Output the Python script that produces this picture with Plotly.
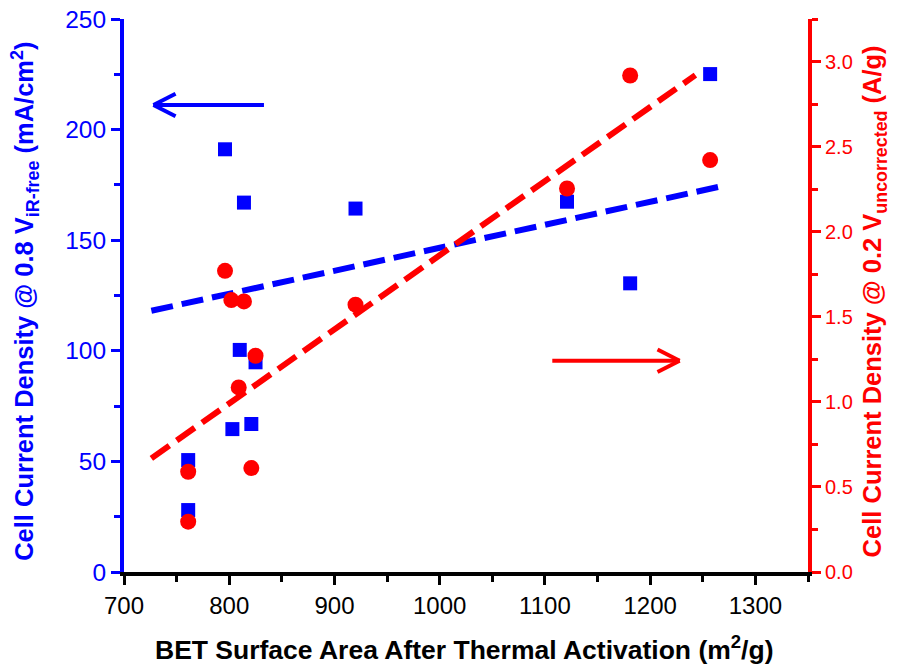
import plotly.graph_objects as go

# BET surface area (m2/g) shared by both series
bet_area = [761, 761, 796, 803, 810, 814, 821, 825, 920, 1121, 1181, 1257]
# left axis: current density @0.8 V iR-free (mA/cm2)
current_ir_free = [50.6, 28.0, 191.1, 64.6, 100.4, 167.0, 66.9, 94.8, 164.3, 167.4, 130.5, 225.1]
# right axis: current density @0.2 V uncorrected (A/g)
bet_area_red = [761, 761, 796, 802, 809, 814, 821, 825, 920, 1121, 1181, 1257]
current_uncorr = [0.589, 0.296, 1.770, 1.598, 1.085, 1.590, 0.611, 1.271, 1.571, 2.254, 2.918, 2.421]

# linear fit lines (end points)
blue_fit_x = [726, 1266]
blue_fit_y = [118.1, 174.2]
red_fit_x = [726, 1243]
red_fit_y = [0.668, 2.920]

x_title = "<b>BET Surface Area After Thermal Activation (m<sup>2</sup>/g)</b>"
y_title = "<b>Cell Current Density @ 0.8 V<sub>iR-free</sub> (mA/cm<sup>2</sup>)</b>"
y2_title = "<b>Cell Current Density @ 0.2 V<sub>uncorrected</sub> (A/g)</b>"

BLUE = "#0000FF"
RED = "#FF0000"
FONT = "Liberation Sans, Arial, sans-serif"

fig = go.Figure()

fig.add_trace(go.Scatter(x=blue_fit_x, y=blue_fit_y, mode="lines",
                         line=dict(color=BLUE, width=6, dash="22px,9px"),
                         showlegend=False, yaxis="y"))
fig.add_trace(go.Scatter(x=red_fit_x, y=red_fit_y, mode="lines",
                         line=dict(color=RED, width=6, dash="22px,9px"),
                         showlegend=False, yaxis="y2"))
fig.add_trace(go.Scatter(x=bet_area, y=current_ir_free, mode="markers",
                         marker=dict(symbol="square", size=14, color=BLUE),
                         showlegend=False, yaxis="y"))
fig.add_trace(go.Scatter(x=bet_area_red, y=current_uncorr, mode="markers",
                         marker=dict(symbol="circle", size=16, color=RED),
                         showlegend=False, yaxis="y2"))

# arrows (open heads) as shapes in left-axis data coordinates
arrow_w = 4
blue_arrow = [((728, 211.1), (833, 211.1)), ((728, 211.1), (749, 206.0)), ((728, 211.1), (749, 216.2))]
red_arrow = [((1107, 95.5), (1228, 95.5)), ((1228, 95.5), (1207, 100.6)), ((1228, 95.5), (1207, 90.4))]
for segs, col in ((blue_arrow, BLUE), (red_arrow, RED)):
    for (x0, y0), (x1, y1) in segs:
        fig.add_shape(type="line", xref="x", yref="y", x0=x0, y0=y0, x1=x1, y1=y1,
                      line=dict(color=col, width=arrow_w))

# axis titles as annotations
fig.add_annotation(text=x_title, xref="paper", yref="paper", x=0.497, y=-0.137,
                   xanchor="center", yanchor="middle", showarrow=False,
                   font=dict(family=FONT, size=26.5, color="black"))
fig.add_annotation(text=y_title, xref="paper", yref="paper", x=-0.145, y=0.49,
                   xanchor="center", yanchor="middle", showarrow=False, textangle=-90,
                   font=dict(family=FONT, size=25.5, color=BLUE))
fig.add_annotation(text=y2_title, xref="paper", yref="paper", x=1.097, y=0.49,
                   xanchor="center", yanchor="middle", showarrow=False, textangle=-90,
                   font=dict(family=FONT, size=25.5, color=RED))

fig.update_layout(
    width=901, height=664,
    margin=dict(l=124, r=93, t=19, b=92, autoexpand=False),
    plot_bgcolor="white", paper_bgcolor="white",
    font=dict(family=FONT),
    xaxis=dict(
        range=[700, 1350], dtick=100, tick0=700, automargin=False,
        showgrid=False, zeroline=False,
        showline=True, linecolor="black", linewidth=4,
        ticks="outside", ticklen=9, tickwidth=3, tickcolor="black",
        minor=dict(dtick=50, ticks="outside", ticklen=6, tickwidth=3, tickcolor="black"),
        tickfont=dict(size=24, color="black"),
    ),
    yaxis=dict(
        range=[0, 250], dtick=50, automargin=False,
        showgrid=False, zeroline=False,
        showline=True, linecolor=BLUE, linewidth=4,
        ticks="outside", ticklen=9, tickwidth=3, tickcolor=BLUE,
        minor=dict(dtick=25, ticks="outside", ticklen=6, tickwidth=3, tickcolor=BLUE),
        tickfont=dict(size=24.5, color=BLUE),
    ),
    yaxis2=dict(
        range=[0, 3.25], dtick=0.5, tickformat=".1f", automargin=False,
        overlaying="y", side="right", anchor="x",
        showgrid=False, zeroline=False,
        showline=True, linecolor=RED, linewidth=4,
        ticks="outside", ticklen=9, tickwidth=3, tickcolor=RED,
        minor=dict(dtick=0.25, ticks="outside", ticklen=6, tickwidth=3, tickcolor=RED),
        tickfont=dict(size=20, color=RED),
    ),
)

fig.write_html("out.html")
